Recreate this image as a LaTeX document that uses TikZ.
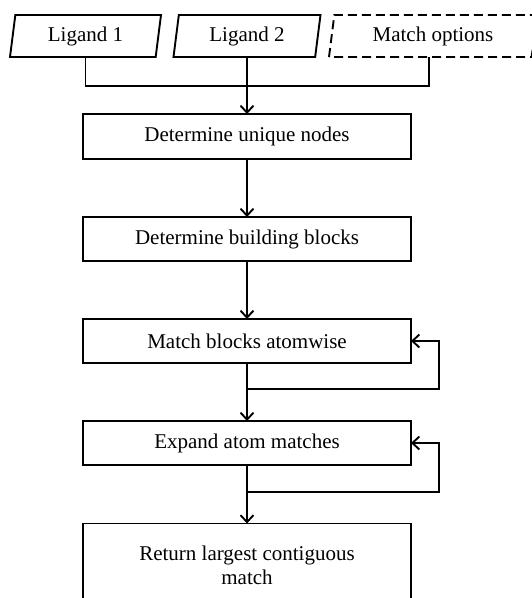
\documentclass[tikz,border=0pt]{standalone}
\usepackage{fontspec}
\setmainfont{Liberation Serif}
\usetikzlibrary{arrows.meta,shapes.geometric}
\begin{document}
\begin{tikzpicture}[x=1pt,y=-1pt,
  every node/.style={font=\fontsize{21}{25}\selectfont, outer sep=0pt, inner sep=2pt},
  line/.style={line width=1.9pt},
  arr/.style={line width=1.9pt, -{Straight Barb[length=7pt,width=13pt,line width=1.9pt]}},
  para/.style={draw, line width=1.9pt, trapezium, trapezium left angle=77, trapezium right angle=103,
    trapezium stretches body, minimum height=42pt},
  box/.style={draw, line width=1.9pt, rectangle, minimum width=328pt, align=center}]
\useasboundingbox (0,0) rectangle (532,598);
\clip (0,0) rectangle (532,598);
\fill[white] (0,0) rectangle (532,598);
% inputs
\node[para, minimum width=151pt] (l1) at (85.5,36) {Ligand 1};
\node[para, minimum width=147pt] (l2) at (247,36) {Ligand 2};
\node[para, dashed, dash pattern=on 9pt off 5pt, minimum width=208pt] (mo) at (433,36) {Match options};
% process boxes
\node[box, minimum height=45pt] (u) at (247,136.5) {Determine unique nodes};
\node[box, minimum height=44pt] (b) at (247,239) {Determine building blocks};
\node[box, minimum height=44pt] (m) at (247,341) {Match blocks atomwise};
\node[box, minimum height=44pt] (e) at (247,443) {Expand atom matches};
\node[box, minimum height=83pt] (r) at (247,565) {Return largest contiguous\\[-1pt]match};
% junctions
\coordinate (jt) at (247,86);
\coordinate (j1) at (247,389);
\coordinate (k1) at (439,389);
\coordinate (j2) at (247,492);
\coordinate (k2) at (439,492);
% connectors
\draw[line] (l1.south) |- (jt);
\draw[line] ([xshift=-4pt]mo.south) |- (jt);
\draw[arr] (l2.south) -- (u.north);
\draw[arr] (u.south) -- (b.north);
\draw[arr] (b.south) -- (m.north);
\draw[arr] (m.south) -- (e.north);
\draw[arr] (j1) -- (k1) |- (m.east);
\draw[arr] (e.south) -- (r.north);
\draw[arr] (j2) -- (k2) |- (e.east);
\end{tikzpicture}
\end{document}
